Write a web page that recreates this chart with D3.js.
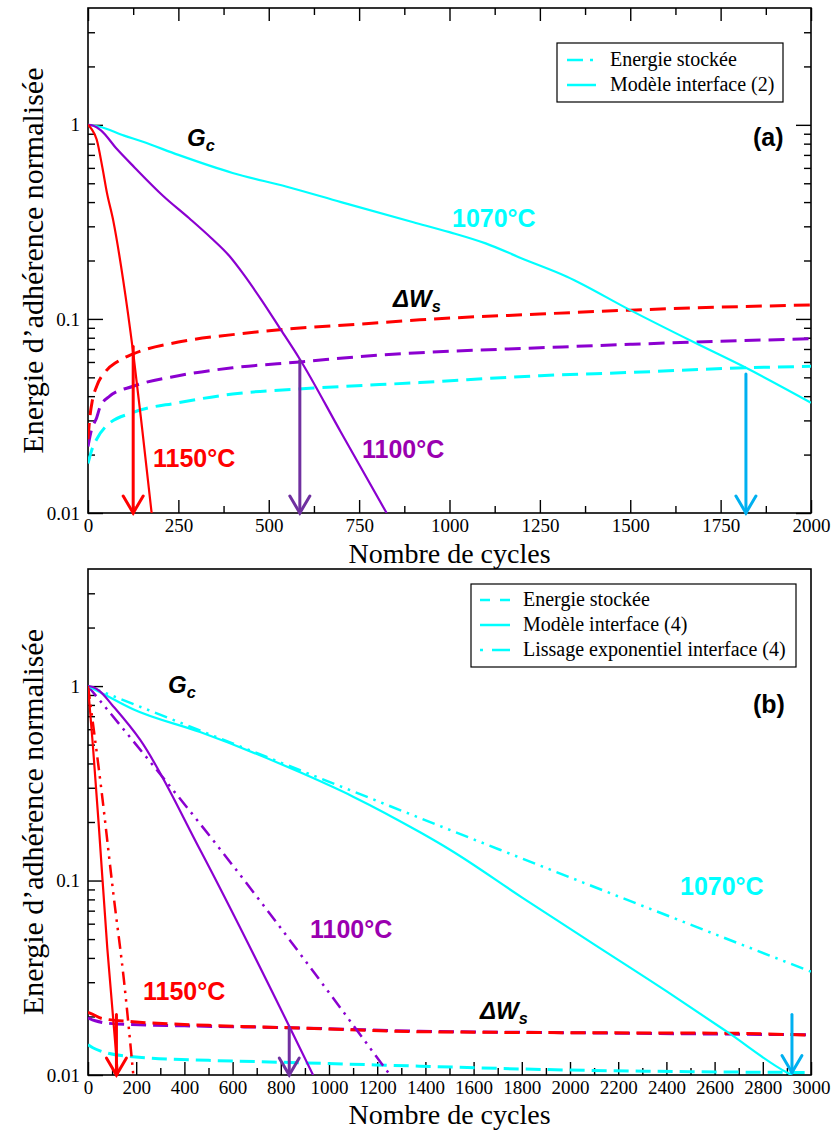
<!DOCTYPE html>
<html>
<head>
<meta charset="utf-8">
<script src="https://cdn.jsdelivr.net/npm/d3@7"></script>
<style>
html,body{margin:0;padding:0;background:#fff;}
svg{display:block;}
</style>
</head>
<body>
<svg id="chart" width="834" height="1131"></svg>
<script>
// ---------------- DATA ----------------
const xTicksA = [0, 250, 500, 750, 1000, 1250, 1500, 1750, 2000];
const xTicksB = [0, 200, 400, 600, 800, 1000, 1200, 1400, 1600, 1800, 2000, 2200, 2400, 2600, 2800, 3000];
const yTickLabels = [0.01, 0.1, 1];

// Gc (Modèle interface (2)) panel a
const aGc1070 = [[0,1],[30,0.98],[100,0.88],[150,0.82],[250,0.70],[400,0.565],[550,0.48],[700,0.40],[900,0.315],[1000,0.28],[1100,0.245],[1200,0.205],[1325,0.165],[1500,0.111],[1675,0.076],[1820,0.056],[2000,0.037]];
const aGc1100 = [[0,1],[15,0.99],[35,0.94],[80,0.75],[130,0.60],[208,0.43],[280,0.33],[340,0.262],[390,0.212],[430,0.17],[480,0.125],[530,0.09],[586,0.062],[700,0.026],[826,0.01]];
const aGc1150 = [[0,1],[10,0.95],[24,0.84],[40,0.60],[52,0.45],[70,0.32],[97,0.16],[125,0.067],[150,0.027],[176,0.01]];
// Energie stockée (ΔWs) panel a
const aWs1070 = [[0,0.018],[10,0.021],[24,0.024],[50,0.028],[125,0.033],[250,0.037],[400,0.041],[624,0.044],[918,0.047],[1250,0.051],[1500,0.053],[1817,0.056],[2000,0.057]];
const aWs1100 = [[0,0.022],[10,0.027],[24,0.031],[33,0.035],[60,0.040],[125,0.045],[250,0.051],[400,0.056],[586,0.060],[800,0.065],[918,0.067],[1250,0.071],[1500,0.074],[1675,0.076],[2000,0.079]];
const aWs1150 = [[0,0.024],[5,0.031],[12,0.038],[24,0.045],[50,0.054],[80,0.060],[125,0.066],[250,0.076],[400,0.083],[530,0.088],[750,0.094],[918,0.099],[1250,0.106],[1500,0.111],[1750,0.115],[2000,0.118]];
const arrowCyclesA = [125, 586, 1820];
const arrowFromA = [0.072, 0.061, 0.052];

// Panel (b)
const bGc1070 = [[0,1],[50,0.93],[187,0.76],[465,0.58],[880,0.36],[1100,0.27],[1378,0.177],[1502,0.144],[1800,0.082],[2100,0.047],[2400,0.027],[2651,0.0167],[2900,0.0103],[2920,0.01]];
const bGc1100 = [[0,1],[20,0.99],[50,0.94],[100,0.80],[216,0.53],[465,0.144],[838,0.0175],[934,0.01]];
const bGc1150 = [[0,1],[20,0.50],[45,0.19],[80,0.045],[124,0.01]];
// Lissage exponentiel interface (4)
const bFit1070 = [[0,1],[880,0.369],[1709,0.144],[3000,0.034]];
const bFit1100 = [[0,1],[548,0.145],[1253,0.01]];
const bFit1150 = [[0,1],[56,0.29],[105,0.086],[150,0.03],[188,0.01]];
// Energie stockée panel b
const bWs1070 = [[0,0.0143],[20,0.0138],[50,0.0133],[187,0.0124],[500,0.0119],[838,0.0116],[1378,0.0111],[2000,0.0106],[2500,0.0104],[3000,0.0103]];
const bWs1100 = [[0,0.0197],[30,0.019],[120,0.0183],[400,0.0179],[838,0.0175],[1378,0.0168],[2000,0.0165],[3000,0.0161]];
const bWs1150 = [[0,0.021],[20,0.0205],[60,0.0195],[187,0.0188],[500,0.0180],[838,0.0175],[1378,0.0167],[2000,0.0165],[2651,0.0164],[3000,0.016]];
const arrowCyclesB = [118, 835, 2921];
const arrowFromB = [0.0205, 0.0175, 0.0205];
const arrowToB = [0.01, 0.01, 0.0103];

const legendA = ["Energie stockée", "Modèle interface (2)"];
const legendB = ["Energie stockée", "Modèle interface (4)", "Lissage exponentiel interface (4)"];

// ---------------- STYLE ----------------
const CYAN = "#00ffff", PURPLE = "#8b00d0", RED = "#ff0000";
const ARROW_RED = "#ff0000", ARROW_PURPLE = "#7030a0", ARROW_BLUE = "#00b0f0";
const SERIF = "'Liberation Serif','Times New Roman',serif";
const SANS = "'Liberation Sans',Arial,Helvetica,sans-serif";

const svg = d3.select("#chart");

function drawPanel(cfg) {
  const {left, right, top, bottom, xMax, xTicks, xMinorStep, topTicks, rightTicks, id} = cfg;
  const x = d3.scaleLinear().domain([0, xMax]).range([left, right]);
  const y = d3.scaleLog().domain([0.01, 4]).range([bottom, top]);
  const g = svg.append("g");

  g.append("clipPath").attr("id", "clip" + id)
    .append("rect").attr("x", left).attr("y", top).attr("width", right - left).attr("height", bottom - top);

  const minorX = d3.range(xMinorStep, xMax, xMinorStep).filter(v => !xTicks.includes(v));
  const minorY = [];
  [0.01, 0.1, 1].forEach(d => { for (let k = 2; k <= 9; k++) { const v = d * k; if (v < 4) minorY.push(v); } });

  const styleAxis = (sel) => {
    sel.attr("font-family", SERIF);
    sel.select(".domain").remove();
    sel.selectAll("line").attr("stroke", "#000").attr("stroke-width", 1.4);
    sel.selectAll("text").attr("font-family", SERIF).attr("font-size", 19).attr("fill", "#000");
  };

  g.append("g").attr("transform", `translate(0,${bottom})`)
    .call(d3.axisBottom(x).tickValues(xTicks).tickSize(-13).tickPadding(6).tickFormat(d3.format("d")))
    .call(styleAxis);
  g.append("g").attr("transform", `translate(0,${bottom})`)
    .call(d3.axisBottom(x).tickValues(minorX).tickSize(-7).tickFormat(""))
    .call(styleAxis);
  g.append("g").attr("transform", `translate(${left},0)`)
    .call(d3.axisLeft(y).tickValues(yTickLabels).tickSize(-15).tickPadding(8).tickFormat(d => String(d)))
    .call(styleAxis);
  g.append("g").attr("transform", `translate(${left},0)`)
    .call(d3.axisLeft(y).tickValues(minorY).tickSize(-7).tickFormat(""))
    .call(styleAxis);
  if (topTicks) {
    g.append("g").attr("transform", `translate(0,${top})`)
      .call(d3.axisTop(x).tickValues(xTicks).tickSize(-13).tickFormat(""))
      .call(styleAxis);
    g.append("g").attr("transform", `translate(0,${top})`)
      .call(d3.axisTop(x).tickValues(minorX).tickSize(-7).tickFormat(""))
      .call(styleAxis);
  }
  if (rightTicks) {
    g.append("g").attr("transform", `translate(${right},0)`)
      .call(d3.axisRight(y).tickValues(yTickLabels).tickSize(-15).tickFormat(""))
      .call(styleAxis);
    g.append("g").attr("transform", `translate(${right},0)`)
      .call(d3.axisRight(y).tickValues(minorY).tickSize(-7).tickFormat(""))
      .call(styleAxis);
  }

  g.append("rect").attr("x", left).attr("y", top).attr("width", right - left).attr("height", bottom - top)
    .attr("fill", "none").attr("stroke", "#000").attr("stroke-width", 1.6);

  g.append("text").attr("x", (left + right) / 2).attr("y", cfg.xTitleY)
    .attr("text-anchor", "middle").attr("font-family", SERIF).attr("font-size", 28).text("Nombre de cycles");
  g.append("text").attr("transform", `translate(43,${(top + bottom) / 2}) rotate(-90)`)
    .attr("text-anchor", "middle").attr("font-family", SERIF).attr("font-size", 30).text("Energie d\u2019adhérence normalisée");

  const line = d3.line().x(d => x(d[0])).y(d => y(d[1])).curve(d3.curveMonotoneX);
  const plot = g.append("g").attr("clip-path", `url(#clip${id})`);
  return {x, y, g, plot, line};
}

function drawSeries(p, data, color, width, dash) {
  p.plot.append("path").datum(data).attr("d", p.line)
    .attr("fill", "none").attr("stroke", color).attr("stroke-width", width)
    .attr("stroke-dasharray", dash || null).attr("stroke-linejoin", "round");
}

function drawArrow(p, cycle, from, to, color) {
  const xx = p.x(cycle), y0 = p.y(from), y1 = p.y(to);
  const a = p.g.append("g").attr("stroke", color).attr("stroke-width", 3).attr("fill", "none").attr("stroke-linecap", "round");
  a.append("line").attr("x1", xx).attr("x2", xx).attr("y1", y0).attr("y2", y1);
  a.append("path").attr("d", `M${xx - 10},${y1 - 17} L${xx},${y1} L${xx + 10},${y1 - 17}`).attr("stroke-linejoin", "miter");
}

function label(g, xPos, yPos, txt, color, size, italic, sub) {
  const t = g.append("text").attr("x", xPos).attr("y", yPos)
    .attr("font-family", SANS).attr("font-weight", "bold").attr("font-size", size)
    .attr("font-style", italic ? "italic" : "normal").attr("fill", color).text(txt);
  if (sub) t.append("tspan").attr("font-size", size * 0.68).attr("dy", size * 0.22).text(sub);
  return t;
}

// ---------------- PANEL A ----------------
const pA = drawPanel({id: "A", left: 88, right: 811, top: 8, bottom: 513, xMax: 2000, xTicks: xTicksA,
  xMinorStep: 125, topTicks: true, rightTicks: true, xTitleY: 563});
const DASH_A = "16,8";
drawSeries(pA, aWs1070, CYAN, 3, DASH_A);
drawSeries(pA, aWs1100, PURPLE, 3, DASH_A);
drawSeries(pA, aWs1150, RED, 3, DASH_A);
drawSeries(pA, aGc1070, CYAN, 2.2);
drawSeries(pA, aGc1100, PURPLE, 2.2);
drawSeries(pA, aGc1150, RED, 2.2);
const arrowColors = [ARROW_RED, ARROW_PURPLE, ARROW_BLUE];
arrowCyclesA.forEach((c, i) => drawArrow(pA, c, arrowFromA[i], 0.01, arrowColors[i]));

label(pA.g, 187, 146, "G", "#000", 24, true, "c");
label(pA.g, 753, 146, "(a)", "#000", 25, false);
label(pA.g, 452, 227, "1070°C", CYAN, 25, false);
label(pA.g, 393, 307, "\u0394W", "#000", 24, true, "s");
label(pA.g, 153, 467, "1150°C", RED, 25, false);
label(pA.g, 362, 458, "1100°C", "#9a00b0", 25, false);

{
  const lg = pA.g.append("g");
  lg.append("rect").attr("x", 557).attr("y", 43).attr("width", 226).attr("height", 59)
    .attr("fill", "#fff").attr("stroke", "#000").attr("stroke-width", 1.2);
  const dashes = ["16,7,3,40", null];
  legendA.forEach((t, i) => {
    const yy = 60 + i * 25;
    lg.append("line").attr("x1", 567).attr("x2", 596).attr("y1", yy).attr("y2", yy)
      .attr("stroke", CYAN).attr("stroke-width", 2.5).attr("stroke-dasharray", dashes[i]);
    lg.append("text").attr("x", 610).attr("y", yy + 6).attr("font-family", SERIF).attr("font-size", 20).text(t);
  });
}

// ---------------- PANEL B ----------------
const pB = drawPanel({id: "B", left: 88, right: 811, top: 569, bottom: 1075, xMax: 3000, xTicks: xTicksB,
  xMinorStep: 100, topTicks: false, rightTicks: false, xTitleY: 1124});
const DASH_B = "15,7";
const DASHDOT = "13,6,2.5,6,2.5,6";
drawSeries(pB, bWs1070, CYAN, 3, DASH_B);
drawSeries(pB, bWs1100, PURPLE, 3, DASH_B);
drawSeries(pB, bWs1150, RED, 3, DASH_B);
drawSeries(pB, bFit1070, CYAN, 2.5, DASHDOT);
drawSeries(pB, bFit1100, PURPLE, 2.5, DASHDOT);
drawSeries(pB, bFit1150, RED, 2.5, DASHDOT);
drawSeries(pB, bGc1070, CYAN, 2.2);
drawSeries(pB, bGc1100, PURPLE, 2.2);
drawSeries(pB, bGc1150, RED, 2.2);
arrowCyclesB.forEach((c, i) => drawArrow(pB, c, arrowFromB[i], arrowToB[i], arrowColors[i]));

label(pB.g, 168, 693, "G", "#000", 24, true, "c");
label(pB.g, 753, 713, "(b)", "#000", 25, false);
label(pB.g, 680, 895, "1070°C", CYAN, 25, false);
label(pB.g, 310, 938, "1100°C", "#9a00b0", 25, false);
label(pB.g, 143, 1000, "1150°C", RED, 25, false);
label(pB.g, 480, 1019, "\u0394W", "#000", 24, true, "s");

{
  const lg = pB.g.append("g");
  lg.append("rect").attr("x", 471).attr("y", 584).attr("width", 325).attr("height", 83)
    .attr("fill", "#fff").attr("stroke", "#000").attr("stroke-width", 1.2);
  const dashes = ["10,10", null, "3,9,18,20"];
  legendB.forEach((t, i) => {
    const yy = 600 + i * 25;
    lg.append("line").attr("x1", 480).attr("x2", 510).attr("y1", yy).attr("y2", yy)
      .attr("stroke", CYAN).attr("stroke-width", 2.5).attr("stroke-dasharray", dashes[i]);
    lg.append("text").attr("x", 523).attr("y", yy + 6).attr("font-family", SERIF).attr("font-size", 20).text(t);
  });
}
</script>
</body>
</html>
